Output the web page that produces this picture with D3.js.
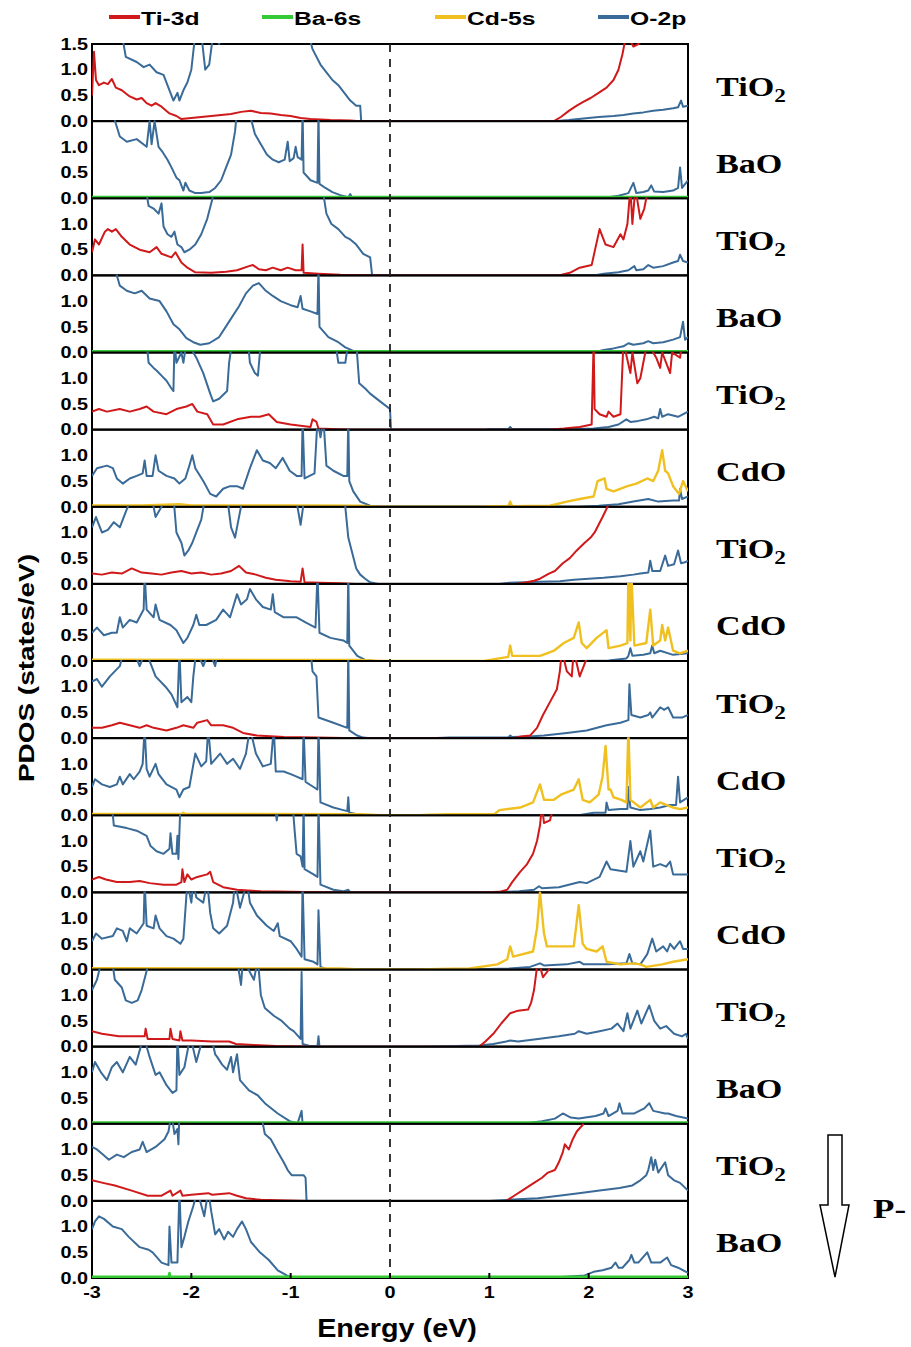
<!DOCTYPE html>
<html>
<head>
<meta charset="utf-8">
<script src="https://cdn.jsdelivr.net/npm/d3@7"></script>
<style>
  body { margin: 0; background: #fff; }
  text { font-family: "Liberation Sans", Arial, sans-serif; font-weight: bold; }
  .serif { font-family: "Liberation Serif", "Times New Roman", serif; }
</style>
</head>
<body>
<script>
// layer stack, top to bottom
const panelLabels = ["TiO2","BaO","TiO2","BaO","TiO2","CdO","TiO2","CdO","TiO2","CdO","TiO2","CdO","TiO2","BaO","TiO2","BaO"];
const legendNames = ["Ti-3d","Ba-6s","Cd-5s","O-2p"];
const legendColors = ["#d0191a","#35c935","#f0c020","#3a6b98"];
const cationOf = { TiO2: "Ti-3d", BaO: "Ba-6s", CdO: "Cd-5s" };
const xTicks = [-3,-2,-1,0,1,2,3];
const yTicks = [0,0.5,1.0];
const yTicksTop = [0,0.5,1.0,1.5];

// PDOS, [energy eV, states/eV]; 1.7 = off the top
const p1Ti = [[-3,0.5],[-2.98,1.35],[-2.96,0.8],[-2.93,0.7],[-2.88,0.75],[-2.84,0.72],[-2.8,0.82],[-2.76,0.65],[-2.7,0.6],[-2.62,0.48],[-2.55,0.42],[-2.5,0.45],[-2.45,0.35],[-2.4,0.3],[-2.36,0.35],[-2.3,0.28],[-2.22,0.15],[-2.15,0.1],[-2.1,0.04],[-2.0,0.06],[-1.9,0.08],[-1.8,0.1],[-1.7,0.12],[-1.6,0.14],[-1.5,0.18],[-1.4,0.2],[-1.3,0.16],[-1.2,0.15],[-1.1,0.12],[-1.0,0.1],[-0.9,0.06],[-0.8,0.04],[-0.6,0.02],[-0.4,0.01],[-0.3,0],[1.65,0],[1.72,0.08],[1.8,0.2],[1.88,0.3],[1.95,0.38],[2.02,0.45],[2.1,0.55],[2.18,0.65],[2.25,0.8],[2.3,1.0],[2.34,1.3],[2.38,1.7],[2.45,1.45],[2.5,1.5],[2.55,1.7]];
const p1O = [[-3,1.7],[-2.7,1.7],[-2.66,1.25],[-2.55,1.15],[-2.48,1.05],[-2.42,1.1],[-2.35,0.95],[-2.28,0.9],[-2.22,0.6],[-2.18,0.4],[-2.14,0.55],[-2.12,0.4],[-2.08,0.6],[-2.04,0.75],[-2.0,1.0],[-1.96,1.7],[-1.9,1.7],[-1.86,1.0],[-1.82,1.1],[-1.78,1.7],[-1.72,1.5],[-1.68,1.7],[-0.82,1.7],[-0.78,1.4],[-0.7,1.1],[-0.64,0.95],[-0.58,0.8],[-0.52,0.7],[-0.46,0.55],[-0.4,0.4],[-0.34,0.3],[-0.3,0.3],[-0.29,0],[1.65,0],[1.8,0.02],[1.95,0.05],[2.1,0.08],[2.25,0.1],[2.35,0.12],[2.45,0.15],[2.55,0.17],[2.65,0.2],[2.75,0.22],[2.85,0.25],[2.9,0.27],[2.93,0.4],[2.95,0.28],[3,0.3]];

const p2Ba = [[-3,0.025],[3,0.025]];
const p2O = [[-3,1.7],[-2.8,1.7],[-2.72,1.2],[-2.65,1.1],[-2.55,1.15],[-2.45,1.0],[-2.42,1.5],[-2.4,1.05],[-2.37,1.5],[-2.33,1.0],[-2.29,0.9],[-2.24,0.75],[-2.2,0.6],[-2.15,0.4],[-2.12,0.35],[-2.08,0.15],[-2.06,0.3],[-2.02,0.15],[-1.96,0.1],[-1.9,0.1],[-1.82,0.12],[-1.76,0.2],[-1.7,0.35],[-1.65,0.6],[-1.6,0.85],[-1.56,1.3],[-1.54,1.7],[-1.42,1.7],[-1.36,1.25],[-1.3,1.05],[-1.24,0.85],[-1.18,0.75],[-1.12,0.7],[-1.06,0.75],[-1.03,1.1],[-1.01,0.72],[-0.97,0.78],[-0.95,1.0],[-0.93,0.8],[-0.89,0.75],[-0.88,1.7],[-0.87,0.5],[-0.8,0.35],[-0.73,0.3],[-0.72,1.7],[-0.71,0.28],[-0.65,0.2],[-0.58,0.12],[-0.5,0.06],[-0.42,0.02],[-0.4,0.08],[-0.38,0.0],[2.1,0],[2.2,0.02],[2.3,0.05],[2.4,0.1],[2.45,0.3],[2.48,0.1],[2.55,0.12],[2.6,0.15],[2.63,0.25],[2.66,0.13],[2.75,0.12],[2.85,0.15],[2.9,0.2],[2.92,0.6],[2.94,0.2],[3,0.35]];

const p3Ti = [[-3,0.45],[-2.97,0.7],[-2.93,0.6],[-2.87,0.85],[-2.84,0.9],[-2.8,0.85],[-2.76,0.9],[-2.7,0.75],[-2.62,0.6],[-2.52,0.5],[-2.42,0.45],[-2.35,0.55],[-2.3,0.42],[-2.2,0.35],[-2.16,0.45],[-2.1,0.25],[-2.04,0.15],[-1.96,0.06],[-1.8,0.05],[-1.65,0.07],[-1.54,0.1],[-1.42,0.18],[-1.38,0.2],[-1.32,0.12],[-1.25,0.1],[-1.18,0.15],[-1.1,0.1],[-1.03,0.15],[-0.95,0.1],[-0.89,0.1],[-0.88,0.6],[-0.87,0.05],[-0.72,0.03],[-0.5,0.01],[-0.2,0],[1.7,0],[1.81,0.05],[1.91,0.15],[2.03,0.2],[2.11,0.9],[2.17,0.6],[2.25,0.55],[2.32,0.8],[2.35,0.7],[2.39,1.0],[2.42,1.7],[2.44,1.0],[2.47,1.7],[2.52,1.1],[2.56,1.3],[2.6,1.7]];
const p3O = [[-3,1.7],[-2.46,1.7],[-2.43,1.35],[-2.38,1.3],[-2.33,1.2],[-2.3,1.4],[-2.28,0.95],[-2.24,0.8],[-2.2,0.75],[-2.17,0.85],[-2.14,0.6],[-2.1,0.55],[-2.07,0.45],[-2.02,0.5],[-1.96,0.6],[-1.9,0.8],[-1.84,1.1],[-1.8,1.4],[-1.76,1.7],[-0.68,1.7],[-0.64,1.2],[-0.59,1.0],[-0.52,0.9],[-0.45,0.75],[-0.4,0.7],[-0.34,0.6],[-0.27,0.42],[-0.2,0.35],[-0.18,0],[2.05,0],[2.15,0.03],[2.3,0.06],[2.4,0.1],[2.46,0.18],[2.48,0.1],[2.55,0.12],[2.6,0.2],[2.65,0.15],[2.75,0.18],[2.85,0.25],[2.9,0.28],[2.92,0.4],[2.95,0.28],[3,0.25]];

const p4Ba = [[-3,0.025],[3,0.025]];
const p4O = [[-3,1.7],[-2.78,1.7],[-2.72,1.3],[-2.65,1.2],[-2.57,1.15],[-2.5,1.2],[-2.42,1.05],[-2.32,1.0],[-2.25,0.8],[-2.18,0.55],[-2.12,0.45],[-2.05,0.28],[-1.98,0.2],[-1.91,0.15],[-1.82,0.18],[-1.72,0.3],[-1.62,0.6],[-1.52,0.9],[-1.45,1.15],[-1.38,1.3],[-1.32,1.35],[-1.25,1.2],[-1.18,1.1],[-1.1,1.0],[-1.0,0.92],[-0.93,0.88],[-0.9,1.1],[-0.88,0.85],[-0.8,0.8],[-0.73,0.75],[-0.72,1.7],[-0.71,0.5],[-0.62,0.3],[-0.52,0.2],[-0.45,0.1],[-0.38,0.04],[-0.33,0],[2.05,0],[2.15,0.05],[2.25,0.08],[2.35,0.12],[2.4,0.18],[2.45,0.15],[2.55,0.18],[2.6,0.22],[2.65,0.18],[2.75,0.2],[2.85,0.25],[2.92,0.3],[2.95,0.6],[2.97,0.25],[3,0.3]];

const p5Ti = [[-3,0.35],[-2.93,0.4],[-2.85,0.35],[-2.72,0.4],[-2.62,0.35],[-2.52,0.4],[-2.45,0.45],[-2.38,0.35],[-2.25,0.3],[-2.15,0.4],[-2.05,0.45],[-1.99,0.5],[-1.94,0.35],[-1.84,0.3],[-1.78,0.1],[-1.68,0.1],[-1.54,0.2],[-1.4,0.25],[-1.31,0.25],[-1.22,0.3],[-1.14,0.15],[-1.0,0.1],[-0.8,0.05],[-0.78,0.2],[-0.74,0.15],[-0.72,0.02],[-0.4,0],[1.6,0],[1.75,0.02],[1.91,0.05],[2.03,0.1],[2.05,1.7],[2.06,0.4],[2.11,0.3],[2.18,0.25],[2.2,0.35],[2.25,0.25],[2.32,0.3],[2.35,1.7],[2.42,1.1],[2.44,1.5],[2.49,0.9],[2.52,1.0],[2.55,1.3],[2.59,1.7],[2.68,1.4],[2.72,1.2],[2.74,1.5],[2.82,1.1],[2.84,1.5],[2.92,1.4],[2.94,1.7]];
const p5O = [[-3,1.7],[-2.45,1.7],[-2.43,1.3],[-2.38,1.2],[-2.35,1.15],[-2.3,1.05],[-2.25,0.95],[-2.2,0.8],[-2.18,0.75],[-2.17,1.7],[-2.15,1.3],[-2.1,1.5],[-2.08,1.3],[-2.05,1.7],[-1.98,1.5],[-1.95,1.4],[-1.88,1.1],[-1.81,0.7],[-1.78,0.55],[-1.72,0.6],[-1.64,0.75],[-1.62,1.3],[-1.59,1.7],[-1.43,1.7],[-1.41,1.3],[-1.36,1.1],[-1.33,1.05],[-1.3,1.7],[-0.55,1.7],[-0.52,1.3],[-0.45,1.3],[-0.42,1.7],[-0.34,1.7],[-0.31,0.9],[-0.25,0.8],[-0.2,0.7],[-0.1,0.55],[0,0.4],[0.01,0],[0.95,0],[1.0,0.01],[1.19,0.01],[1.21,0.05],[1.23,0.01],[1.9,0.01],[2.05,0.02],[2.2,0.05],[2.3,0.1],[2.38,0.2],[2.42,0.15],[2.5,0.17],[2.58,0.2],[2.66,0.25],[2.7,0.22],[2.72,0.4],[2.74,0.25],[2.8,0.3],[2.9,0.25],[3,0.35]];

const p6Cd = [[-3,0.025],[-2.5,0.025],[-2.12,0.05],[-2.0,0.025],[-1.0,0.025],[-0.3,0.02],[-0.1,0],[0.95,0],[1.0,0.01],[1.19,0.01],[1.21,0.1],[1.23,0.01],[1.61,0.02],[1.78,0.1],[1.91,0.15],[2.05,0.2],[2.09,0.5],[2.16,0.55],[2.18,0.35],[2.25,0.3],[2.39,0.4],[2.48,0.45],[2.59,0.55],[2.65,0.5],[2.7,0.7],[2.74,1.1],[2.77,0.7],[2.8,0.65],[2.85,0.4],[2.91,0.25],[2.95,0.5],[3,0.3]];
const p6O = [[-3,0.6],[-2.95,0.75],[-2.85,0.8],[-2.79,0.75],[-2.75,0.55],[-2.69,0.45],[-2.62,0.55],[-2.55,0.6],[-2.49,0.65],[-2.47,0.9],[-2.45,0.6],[-2.39,0.6],[-2.36,1.0],[-2.33,0.7],[-2.25,0.6],[-2.17,0.55],[-2.12,0.45],[-2.06,0.55],[-2.02,0.8],[-1.99,1.0],[-1.96,0.75],[-1.88,0.5],[-1.81,0.25],[-1.75,0.2],[-1.68,0.35],[-1.61,0.4],[-1.54,0.4],[-1.48,0.35],[-1.41,0.75],[-1.34,1.1],[-1.28,0.9],[-1.21,0.85],[-1.15,0.75],[-1.08,0.95],[-1.01,0.7],[-0.94,0.6],[-0.89,0.6],[-0.88,1.7],[-0.86,0.55],[-0.76,0.65],[-0.73,1.7],[-0.7,1.35],[-0.67,1.7],[-0.64,0.8],[-0.57,0.7],[-0.47,0.6],[-0.43,0.6],[-0.42,1.7],[-0.41,0.5],[-0.37,0.3],[-0.3,0.1],[-0.2,0.02],[-0.1,0],[1.9,0],[2.1,0.02],[2.3,0.05],[2.45,0.1],[2.6,0.15],[2.7,0.1],[2.85,0.12],[2.91,0.12],[2.92,0.35],[2.94,0.15],[3,0.2]];

const p7Ti = [[-3,0.2],[-2.9,0.18],[-2.8,0.22],[-2.7,0.2],[-2.6,0.3],[-2.5,0.22],[-2.4,0.2],[-2.3,0.18],[-2.2,0.22],[-2.1,0.25],[-2.0,0.2],[-1.9,0.22],[-1.8,0.18],[-1.7,0.2],[-1.6,0.25],[-1.52,0.35],[-1.45,0.22],[-1.35,0.18],[-1.25,0.12],[-1.15,0.08],[-1.0,0.05],[-0.9,0.04],[-0.88,0.3],[-0.86,0.03],[-0.7,0.02],[-0.5,0.01],[-0.35,0],[1.25,0],[1.35,0.02],[1.45,0.06],[1.51,0.1],[1.6,0.2],[1.66,0.25],[1.74,0.4],[1.81,0.5],[1.88,0.65],[1.96,0.8],[2.02,0.9],[2.06,1.0],[2.1,1.15],[2.14,1.3],[2.19,1.5],[2.22,1.7]];
const p7O = [[-3,1.1],[-2.96,1.3],[-2.9,1.0],[-2.84,1.05],[-2.78,1.2],[-2.72,1.1],[-2.66,1.4],[-2.6,1.7],[-2.4,1.7],[-2.36,1.3],[-2.3,1.5],[-2.25,1.7],[-2.18,1.7],[-2.15,1.0],[-2.1,0.8],[-2.07,0.55],[-2.03,0.65],[-1.99,0.8],[-1.95,1.0],[-1.9,1.25],[-1.86,1.7],[-1.64,1.7],[-1.6,1.1],[-1.56,0.9],[-1.53,1.2],[-1.48,1.7],[-0.95,1.7],[-0.9,1.15],[-0.86,1.7],[-0.46,1.7],[-0.42,0.9],[-0.38,0.6],[-0.34,0.3],[-0.3,0.18],[-0.25,0.1],[-0.2,0.03],[-0.12,0],[1.1,0],[1.2,0.02],[1.5,0.04],[1.71,0.05],[1.85,0.08],[2.0,0.1],[2.15,0.12],[2.32,0.15],[2.45,0.18],[2.52,0.2],[2.6,0.22],[2.62,0.45],[2.64,0.25],[2.72,0.25],[2.77,0.55],[2.8,0.35],[2.86,0.38],[2.9,0.65],[2.93,0.4],[2.97,0.42],[3,0.45]];

const p8Cd = [[-3,0.025],[-0.3,0.02],[-0.1,0],[0.95,0],[1.1,0.05],[1.19,0.08],[1.21,0.3],[1.23,0.1],[1.51,0.1],[1.58,0.15],[1.65,0.2],[1.75,0.35],[1.85,0.45],[1.9,0.75],[1.93,0.35],[1.98,0.25],[2.08,0.45],[2.18,0.6],[2.2,0.25],[2.32,0.3],[2.39,0.35],[2.4,1.7],[2.42,0.4],[2.43,1.7],[2.46,0.3],[2.58,0.35],[2.62,1.0],[2.65,0.3],[2.72,0.4],[2.74,0.7],[2.77,0.4],[2.8,0.65],[2.85,0.2],[2.92,0.15],[3,0.2]];
const p8O = [[-3,0.55],[-2.95,0.65],[-2.88,0.5],[-2.8,0.55],[-2.75,0.55],[-2.72,0.85],[-2.69,0.65],[-2.62,0.8],[-2.55,0.75],[-2.48,1.0],[-2.47,1.7],[-2.45,1.0],[-2.38,0.85],[-2.36,1.1],[-2.32,0.8],[-2.21,0.7],[-2.15,0.6],[-2.08,0.35],[-2.04,0.45],[-1.98,0.7],[-1.95,0.9],[-1.92,0.7],[-1.85,0.7],[-1.75,0.8],[-1.68,1.0],[-1.61,0.85],[-1.54,1.3],[-1.5,1.1],[-1.44,1.2],[-1.41,1.4],[-1.35,1.2],[-1.28,1.05],[-1.2,1.0],[-1.18,1.3],[-1.16,0.95],[-1.07,0.85],[-0.94,0.85],[-0.85,0.75],[-0.75,0.65],[-0.73,1.7],[-0.71,0.55],[-0.6,0.45],[-0.47,0.4],[-0.43,0.35],[-0.42,1.7],[-0.41,0.3],[-0.33,0.1],[-0.25,0.02],[-0.15,0],[1.9,0],[2.2,0.01],[2.38,0.05],[2.4,0.1],[2.42,0.25],[2.44,0.1],[2.55,0.12],[2.62,0.15],[2.64,0.3],[2.66,0.15],[2.72,0.2],[2.85,0.12],[3,0.15]];

const p9Ti = [[-3,0.2],[-2.9,0.2],[-2.8,0.25],[-2.72,0.3],[-2.62,0.25],[-2.52,0.2],[-2.45,0.25],[-2.38,0.2],[-2.25,0.15],[-2.15,0.2],[-2.08,0.25],[-1.98,0.2],[-1.94,0.3],[-1.84,0.35],[-1.8,0.25],[-1.68,0.25],[-1.58,0.2],[-1.48,0.1],[-1.34,0.05],[-1.07,0.02],[-0.74,0.01],[-0.33,0],[1.24,0],[1.32,0.03],[1.41,0.05],[1.48,0.2],[1.54,0.45],[1.61,0.7],[1.68,0.95],[1.71,1.3],[1.73,1.7],[1.78,1.3],[1.83,1.2],[1.85,1.7],[1.91,1.2],[2.01,1.7]];
const p9O = [[-3,1.1],[-2.95,1.15],[-2.9,1.0],[-2.82,1.2],[-2.72,1.4],[-2.68,1.7],[-2.58,1.7],[-2.52,1.4],[-2.46,1.7],[-2.4,1.4],[-2.36,1.2],[-2.26,1.0],[-2.2,0.85],[-2.14,0.6],[-2.12,1.7],[-2.1,0.7],[-2.04,0.8],[-2.0,0.7],[-1.98,1.2],[-1.95,1.7],[-1.88,1.4],[-1.82,1.7],[-1.76,1.4],[-1.73,1.7],[-0.8,1.7],[-0.78,1.3],[-0.74,1.2],[-0.72,0.4],[-0.57,0.3],[-0.43,0.2],[-0.42,1.7],[-0.41,0.15],[-0.33,0.05],[-0.27,0.01],[-0.2,0],[0.4,0],[0.6,0.01],[1.19,0.01],[1.21,0.05],[1.23,0.02],[1.4,0.03],[1.55,0.05],[1.78,0.1],[1.98,0.15],[2.18,0.25],[2.32,0.3],[2.4,0.35],[2.41,1.05],[2.43,0.45],[2.52,0.4],[2.6,0.45],[2.62,0.5],[2.64,0.4],[2.72,0.6],[2.76,0.55],[2.8,0.6],[2.85,0.4],[2.94,0.4],[3,0.45]];

const p10Cd = [[-3,0.025],[-2.1,0.025],[-2.08,0.05],[-2.06,0.025],[-0.3,0.02],[-0.1,0],[0.3,0],[0.4,0.01],[0.6,0.02],[1.05,0.02],[1.1,0.1],[1.31,0.15],[1.44,0.25],[1.51,0.6],[1.55,0.3],[1.65,0.3],[1.72,0.4],[1.85,0.5],[1.9,0.7],[1.94,0.3],[2.01,0.25],[2.1,0.4],[2.14,0.75],[2.17,1.35],[2.2,0.5],[2.22,0.5],[2.25,0.35],[2.33,0.3],[2.38,0.25],[2.4,1.7],[2.42,0.3],[2.52,0.15],[2.62,0.3],[2.65,0.15],[2.72,0.25],[2.78,0.2],[2.85,0.15],[2.92,0.12],[3,0.15]];
const p10O = [[-3,0.55],[-2.97,0.7],[-2.9,0.6],[-2.82,0.55],[-2.75,0.6],[-2.72,0.75],[-2.69,0.6],[-2.62,0.8],[-2.58,0.7],[-2.52,0.85],[-2.49,1.0],[-2.47,1.7],[-2.45,0.9],[-2.42,0.75],[-2.36,1.0],[-2.33,0.8],[-2.25,0.6],[-2.15,0.5],[-2.12,0.35],[-2.08,0.5],[-2.02,0.55],[-1.96,1.2],[-1.9,0.95],[-1.85,1.05],[-1.83,1.7],[-1.8,1.0],[-1.71,1.2],[-1.64,1.0],[-1.58,1.1],[-1.51,0.9],[-1.45,1.2],[-1.41,1.7],[-1.35,1.2],[-1.28,0.95],[-1.2,1.0],[-1.17,1.7],[-1.15,0.85],[-1.07,0.85],[-1.0,0.8],[-0.94,0.75],[-0.88,0.7],[-0.87,1.7],[-0.85,0.65],[-0.77,0.55],[-0.73,0.5],[-0.72,1.7],[-0.7,0.25],[-0.57,0.15],[-0.47,0.1],[-0.43,0.08],[-0.42,0.35],[-0.41,0.05],[-0.3,0.01],[-0.2,0],[1.9,0],[2.05,0.05],[2.17,0.05],[2.18,0.25],[2.2,0.1],[2.32,0.12],[2.39,0.12],[2.4,0.55],[2.42,0.15],[2.52,0.1],[2.62,0.12],[2.72,0.15],[2.82,0.2],[2.88,0.2],[2.9,0.75],[2.92,0.25],[3,0.35]];

const p11Ti = [[-3,0.25],[-2.93,0.3],[-2.86,0.25],[-2.75,0.2],[-2.62,0.2],[-2.52,0.22],[-2.42,0.18],[-2.28,0.15],[-2.15,0.15],[-2.1,0.2],[-2.09,0.45],[-2.07,0.2],[-2.04,0.35],[-2.0,0.25],[-1.94,0.3],[-1.84,0.35],[-1.81,0.4],[-1.78,0.2],[-1.68,0.1],[-1.54,0.05],[-1.3,0.02],[-1.0,0.01],[-0.5,0],[0.91,0],[1.1,0.01],[1.18,0.05],[1.23,0.2],[1.31,0.4],[1.38,0.55],[1.44,0.75],[1.48,1.0],[1.51,1.3],[1.53,1.7],[1.55,1.35],[1.61,1.4],[1.65,1.7]];
const p11O = [[-3,1.7],[-2.8,1.7],[-2.78,1.3],[-2.65,1.25],[-2.55,1.2],[-2.45,1.1],[-2.41,0.9],[-2.35,0.8],[-2.28,0.75],[-2.22,0.85],[-2.21,1.15],[-2.19,0.75],[-2.15,0.75],[-2.14,1.1],[-2.13,0.65],[-2.11,1.7],[-1.16,1.7],[-1.14,1.4],[-1.12,1.7],[-0.98,1.7],[-0.96,1.2],[-0.94,0.75],[-0.9,0.7],[-0.88,0.5],[-0.87,1.7],[-0.86,0.45],[-0.77,0.35],[-0.73,0.3],[-0.72,1.7],[-0.7,0.15],[-0.57,0.05],[-0.47,0.02],[-0.42,0.05],[-0.4,0],[1.0,0],[1.3,0.02],[1.45,0.05],[1.5,0.12],[1.53,0.08],[1.7,0.1],[1.91,0.2],[1.98,0.18],[2.11,0.3],[2.18,0.6],[2.22,0.45],[2.38,0.4],[2.42,1.0],[2.45,0.5],[2.52,0.8],[2.55,0.6],[2.62,1.2],[2.65,0.5],[2.72,0.55],[2.78,0.5],[2.82,0.6],[2.85,0.35],[3,0.35]];

const p12Cd = [[-3,0.025],[-0.5,0.02],[-0.3,0],[0.3,0],[0.5,0.01],[0.8,0.02],[1.08,0.1],[1.18,0.2],[1.21,0.45],[1.24,0.25],[1.44,0.35],[1.48,0.8],[1.51,1.5],[1.55,0.7],[1.58,0.45],[1.71,0.45],[1.85,0.45],[1.9,1.25],[1.94,0.5],[1.98,0.4],[2.08,0.35],[2.14,0.45],[2.18,0.15],[2.32,0.1],[2.45,0.12],[2.52,0.1],[2.58,0.05],[2.74,0.1],[2.85,0.15],[3,0.2]];
const p12O = [[-3,0.55],[-2.96,0.7],[-2.9,0.6],[-2.79,0.65],[-2.75,0.8],[-2.69,0.75],[-2.65,0.55],[-2.62,0.8],[-2.55,0.7],[-2.48,0.9],[-2.47,1.7],[-2.45,0.85],[-2.38,0.8],[-2.36,1.05],[-2.32,0.8],[-2.25,0.65],[-2.18,0.6],[-2.11,0.5],[-2.08,0.6],[-2.04,1.7],[-2.0,1.3],[-1.98,1.7],[-1.95,1.4],[-1.88,1.3],[-1.84,1.7],[-1.81,1.1],[-1.78,0.8],[-1.72,0.7],[-1.64,0.85],[-1.58,1.3],[-1.56,1.7],[-1.51,1.2],[-1.44,1.7],[-1.41,1.3],[-1.34,1.05],[-1.24,0.85],[-1.17,0.75],[-1.13,0.9],[-1.11,0.65],[-1.0,0.55],[-0.94,0.4],[-0.89,0.25],[-0.88,1.7],[-0.86,0.2],[-0.77,0.15],[-0.73,0.1],[-0.72,1.15],[-0.7,0.05],[-0.64,0.01],[-0.57,0],[0.8,0],[1.2,0.02],[1.41,0.05],[1.51,0.12],[1.55,0.08],[1.78,0.1],[1.91,0.15],[1.95,0.1],[2.2,0.1],[2.38,0.12],[2.41,0.3],[2.44,0.12],[2.52,0.1],[2.59,0.3],[2.64,0.6],[2.68,0.35],[2.75,0.45],[2.79,0.35],[2.82,0.5],[2.86,0.4],[2.92,0.55],[2.95,0.4],[3,0.4]];

const p13Ti = [[-3,0.3],[-2.9,0.25],[-2.73,0.2],[-2.6,0.2],[-2.47,0.2],[-2.46,0.35],[-2.44,0.15],[-2.3,0.15],[-2.22,0.15],[-2.21,0.35],[-2.19,0.15],[-2.12,0.12],[-2.11,0.3],[-2.09,0.12],[-2.0,0.12],[-1.79,0.1],[-1.62,0.1],[-1.55,0.05],[-1.37,0.03],[-1.15,0.01],[-0.8,0],[0.9,0],[0.96,0.1],[1.04,0.25],[1.12,0.45],[1.21,0.65],[1.29,0.7],[1.39,0.72],[1.42,0.85],[1.45,1.1],[1.47,1.4],[1.49,1.7],[1.54,1.35],[1.6,1.5],[1.62,1.7]];
const p13O = [[-3,1.1],[-2.95,1.3],[-2.9,1.7],[-2.8,1.7],[-2.77,1.3],[-2.7,1.15],[-2.66,0.9],[-2.6,0.85],[-2.54,0.9],[-2.5,1.1],[-2.46,1.4],[-2.42,1.7],[-1.54,1.7],[-1.5,1.2],[-1.48,1.7],[-1.37,1.3],[-1.33,1.7],[-1.3,1.0],[-1.26,0.75],[-1.17,0.6],[-1.09,0.5],[-1.01,0.35],[-0.97,0.3],[-0.9,0.15],[-0.89,1.45],[-0.88,0.05],[-0.8,0.01],[-0.73,0.01],[-0.72,0.2],[-0.71,0],[0.3,0],[0.9,0.02],[1.04,0.05],[1.17,0.1],[1.21,0.12],[1.29,0.1],[1.49,0.15],[1.7,0.2],[1.86,0.25],[1.9,0.3],[1.98,0.25],[2.11,0.3],[2.23,0.35],[2.29,0.45],[2.35,0.3],[2.39,0.65],[2.42,0.35],[2.49,0.7],[2.53,0.45],[2.61,0.8],[2.66,0.5],[2.72,0.35],[2.78,0.4],[2.86,0.25],[2.94,0.2],[2.98,0.25],[3,0.15]];

const p14Ba = [[-3,0.025],[3,0.025]];
const p14O = [[-3,1.0],[-2.97,1.2],[-2.91,1.0],[-2.85,0.85],[-2.8,1.1],[-2.75,1.2],[-2.69,1.0],[-2.62,1.3],[-2.56,1.15],[-2.48,1.7],[-2.42,1.3],[-2.36,0.95],[-2.32,1.0],[-2.25,0.75],[-2.19,0.6],[-2.15,0.65],[-2.14,1.7],[-2.12,0.95],[-2.07,1.1],[-2.01,1.7],[-1.95,1.2],[-1.88,1.7],[-1.8,1.7],[-1.76,1.35],[-1.74,1.3],[-1.69,1.15],[-1.64,1.05],[-1.6,1.3],[-1.58,1.0],[-1.54,1.35],[-1.51,0.85],[-1.42,0.65],[-1.33,0.55],[-1.26,0.4],[-1.13,0.2],[-1.01,0.05],[-0.93,0.01],[-0.89,0.25],[-0.88,0],[1.2,0],[1.41,0.02],[1.53,0.05],[1.66,0.1],[1.74,0.2],[1.82,0.12],[1.9,0.1],[2.07,0.15],[2.15,0.2],[2.17,0.3],[2.2,0.15],[2.29,0.25],[2.31,0.4],[2.34,0.2],[2.46,0.2],[2.56,0.3],[2.61,0.4],[2.65,0.25],[2.77,0.2],[2.8,0.2],[2.88,0.15],[3,0.1]];

const p15Ti = [[-3,0.4],[-2.89,0.35],[-2.77,0.3],[-2.6,0.2],[-2.44,0.1],[-2.3,0.1],[-2.21,0.2],[-2.19,0.1],[-2.11,0.2],[-2.09,0.1],[-2.0,0.12],[-1.83,0.15],[-1.79,0.12],[-1.62,0.15],[-1.54,0.1],[-1.45,0.05],[-1.3,0.02],[-1.13,0.01],[-0.85,0],[1.17,0],[1.25,0.1],[1.33,0.2],[1.45,0.35],[1.53,0.45],[1.59,0.55],[1.66,0.6],[1.7,0.75],[1.74,0.95],[1.76,1.1],[1.8,1.0],[1.84,1.2],[1.88,1.35],[1.95,1.5]];
const p15O = [[-3,1.05],[-2.95,1.0],[-2.89,0.9],[-2.83,0.8],[-2.75,0.9],[-2.68,0.85],[-2.6,0.95],[-2.52,1.0],[-2.49,1.15],[-2.45,0.95],[-2.36,1.05],[-2.27,1.2],[-2.23,1.35],[-2.2,1.7],[-2.17,1.3],[-2.14,1.4],[-2.13,1.1],[-2.12,1.7],[-1.3,1.7],[-1.26,1.3],[-1.2,1.2],[-1.13,0.95],[-1.07,0.75],[-1.03,0.6],[-0.99,0.5],[-0.93,0.5],[-0.87,0.5],[-0.85,0.45],[-0.84,0],[1.0,0],[1.29,0.03],[1.49,0.05],[1.7,0.1],[1.9,0.15],[2.11,0.2],[2.31,0.25],[2.44,0.3],[2.52,0.4],[2.58,0.5],[2.6,0.6],[2.63,0.85],[2.65,0.6],[2.67,0.8],[2.7,0.55],[2.77,0.75],[2.8,0.5],[2.86,0.4],[2.92,0.35],[3,0.2]];

const p16Ba = [[-3,0.025],[-2.23,0.025],[-2.22,0.1],[-2.21,0.025],[3,0.025]];
const p16O = [[-3,0.95],[-2.97,1.1],[-2.93,1.2],[-2.88,1.15],[-2.79,1.0],[-2.7,0.95],[-2.63,0.8],[-2.52,0.6],[-2.43,0.55],[-2.39,0.5],[-2.3,0.3],[-2.23,0.25],[-2.22,1.0],[-2.2,0.3],[-2.14,0.3],[-2.12,1.7],[-2.1,0.6],[-2.07,0.8],[-2.03,1.1],[-1.98,1.4],[-1.94,1.7],[-1.87,1.2],[-1.83,1.7],[-1.8,1.3],[-1.76,0.85],[-1.72,0.95],[-1.67,0.75],[-1.63,0.9],[-1.58,0.8],[-1.54,0.95],[-1.49,1.1],[-1.45,0.95],[-1.4,0.7],[-1.31,0.5],[-1.22,0.35],[-1.13,0.15],[-1.04,0.05],[-0.98,0],[1.5,0],[1.73,0.02],[1.96,0.05],[2.05,0.12],[2.14,0.15],[2.23,0.2],[2.27,0.3],[2.3,0.2],[2.34,0.2],[2.41,0.35],[2.43,0.45],[2.46,0.3],[2.5,0.3],[2.59,0.5],[2.63,0.3],[2.72,0.3],[2.79,0.4],[2.83,0.25],[2.9,0.2],[3,0.1]];

const panelCation = [p1Ti,p2Ba,p3Ti,p4Ba,p5Ti,p6Cd,p7Ti,p8Cd,p9Ti,p10Cd,p11Ti,p12Cd,p13Ti,p14Ba,p15Ti,p16Ba];
const panelOxygen = [p1O,p2O,p3O,p4O,p5O,p6O,p7O,p8O,p9O,p10O,p11O,p12O,p13O,p14O,p15O,p16O];

const width = 911, height = 1347;
const svg = d3.select('body').append('svg')
  .attr('width', width)
  .attr('height', height);

const color = d3.scaleOrdinal(legendNames, legendColors);
const x = d3.scaleLinear().domain([-3, 3]).range([92, 688]);
const band = d3.scaleBand().domain(d3.range(panelLabels.length)).range([44, 1278]).paddingInner(0);
const h = band.bandwidth();
const y = d3.scaleLinear().domain([0, 1.5]).range([h, 0]);
const line = d3.line().x(d => x(d[0])).y(d => y(d[1]));

// wide sans text, like the original figure
const SX = 1.24;

panelLabels.forEach((label, i) => {
  const g = svg.append('g').attr('transform', `translate(0,${band(i)})`);

  g.append('clipPath').attr('id', 'clip' + i)
    .append('rect').attr('x', x(-3)).attr('y', -1).attr('width', x(3) - x(-3)).attr('height', h + 1);

  // frame
  g.append('rect')
    .attr('x', x(-3)).attr('y', 0)
    .attr('width', x(3) - x(-3)).attr('height', h)
    .attr('fill', 'none').attr('stroke', '#000').attr('stroke-width', 2);

  const curves = g.append('g').attr('clip-path', `url(#clip${i})`);
  curves.append('path').datum(panelOxygen[i])
    .attr('d', line).attr('fill', 'none')
    .attr('stroke', color('O-2p')).attr('stroke-width', 2).attr('stroke-linejoin', 'round');
  curves.append('path').datum(panelCation[i])
    .attr('d', line).attr('fill', 'none')
    .attr('stroke', color(cationOf[label])).attr('stroke-width', label === 'TiO2' ? 2 : 2.4).attr('stroke-linejoin', 'round');

  // y tick labels
  const ticks = i === 0 ? yTicksTop : yTicks;
  g.selectAll('.ytl').data(ticks).enter().append('text')
    .attr('transform', d => `translate(88,${y(d)}) scale(${SX},1)`)
    .attr('dy', '0.36em')
    .attr('text-anchor', 'end')
    .attr('font-size', 16)
    .text(d3.format('.1f'));

  // layer label, with subscript
  const m = label.match(/^(\D+)(\d*)$/);
  const t = g.append('text').attr('class', 'serif')
    .attr('transform', `translate(716,${h / 2 + 13}) scale(1.22,1)`)
    .attr('font-size', 28);
  t.append('tspan').text(m[1]);
  if (m[2]) t.append('tspan').attr('font-size', 19).attr('dy', 6).text(m[2]);
});

// Fermi level
svg.append('line')
  .attr('x1', x(0)).attr('x2', x(0))
  .attr('y1', 44).attr('y2', 1278)
  .attr('stroke', '#222').attr('stroke-width', 1.8)
  .attr('stroke-dasharray', '8,7');

// x axis ticks + labels
const xb = 1278;
svg.selectAll('.xt').data(xTicks.slice(1, -1)).enter().append('line')
  .attr('x1', d => x(d)).attr('x2', d => x(d))
  .attr('y1', xb).attr('y2', xb - 5)
  .attr('stroke', '#000').attr('stroke-width', 2);
svg.selectAll('.xtl').data(xTicks).enter().append('text')
  .attr('transform', d => `translate(${x(d)},${xb + 20}) scale(${SX},1)`)
  .attr('text-anchor', 'middle')
  .attr('font-size', 16)
  .text(d => d);

svg.append('text')
  .attr('transform', `translate(397,1337) scale(1.15,1)`)
  .attr('text-anchor', 'middle')
  .attr('font-size', 25)
  .text('Energy (eV)');

svg.append('text')
  .attr('transform', `translate(34,668) rotate(-90) scale(1.27,1)`)
  .attr('text-anchor', 'middle')
  .attr('font-size', 22)
  .text('PDOS (states/eV)');

// legend
const legendX = [109, 262, 435, 598];
const lg = svg.selectAll('.lg').data(legendNames).enter().append('g')
  .attr('transform', (d, i) => `translate(${legendX[i]},17)`);
lg.append('line').attr('x1', 0).attr('x2', 31)
  .attr('stroke', d => color(d)).attr('stroke-width', 4);
lg.append('text')
  .attr('transform', `translate(32,8) scale(1.3,1)`)
  .attr('font-size', 19)
  .text(d => d);

// polarization arrow
svg.append('path')
  .attr('d', 'M828,1135 L842,1135 L842,1205 L849,1205 L835,1277 L820,1205 L828,1205 Z')
  .attr('fill', '#fff').attr('stroke', '#000').attr('stroke-width', 1.5)
  .attr('stroke-linejoin', 'miter');
svg.append('text').attr('class', 'serif')
  .attr('transform', `translate(873,1218) scale(1.25,1)`)
  .attr('font-size', 28)
  .text('P-');
</script>
</body>
</html>
